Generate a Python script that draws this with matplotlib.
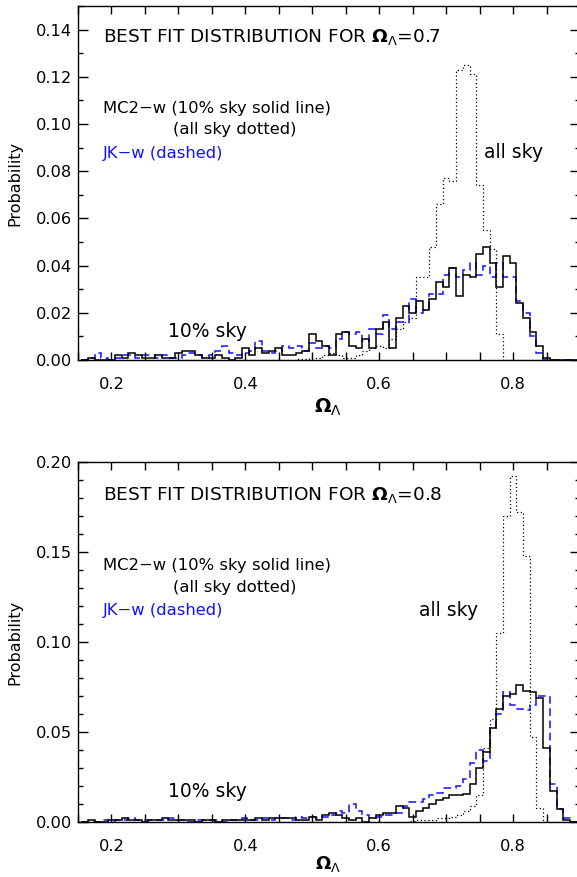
import numpy as np
import matplotlib
matplotlib.use("Agg")
import matplotlib.pyplot as plt
from matplotlib.ticker import MultipleLocator

# -------------------------------
# 1. Data (probability per 0.01 bin, centres 0.16 ... 0.89)
# -------------------------------

bin_edges = np.round(np.arange(0.155, 0.9, 0.01), 3)

# Omega_Lambda = 0.7
mc2_10pct_07 = [
    0.000, 0.001, 0.000, 0.000, 0.000, 0.002, 0.001, 0.003, 0.002, 0.001,
    0.001, 0.002, 0.001, 0.001, 0.003, 0.004, 0.004, 0.002, 0.001, 0.001,
    0.002, 0.001, 0.000, 0.001, 0.005, 0.002, 0.005, 0.003, 0.004, 0.005,
    0.002, 0.002, 0.003, 0.004, 0.011, 0.008, 0.006, 0.002, 0.011, 0.012,
    0.006, 0.005, 0.009, 0.005, 0.013, 0.016, 0.005, 0.018, 0.023, 0.020,
    0.025, 0.021, 0.026, 0.033, 0.031, 0.039, 0.027, 0.036, 0.035, 0.045,
    0.048, 0.041, 0.031, 0.044, 0.041, 0.024, 0.018, 0.012, 0.006, 0.001,
    0.000, 0.000, 0.000, 0.000,
]
jk_07 = [
    0.000, 0.001, 0.003, 0.001, 0.000, 0.001, 0.002, 0.002, 0.001, 0.002,
    0.002, 0.001, 0.002, 0.001, 0.001, 0.002, 0.003, 0.002, 0.001, 0.002,
    0.004, 0.006, 0.003, 0.002, 0.003, 0.004, 0.008, 0.004, 0.003, 0.004,
    0.006, 0.005, 0.006, 0.004, 0.007, 0.005, 0.006, 0.005, 0.009, 0.012,
    0.011, 0.012, 0.008, 0.013, 0.011, 0.019, 0.013, 0.016, 0.016, 0.026,
    0.020, 0.021, 0.028, 0.028, 0.036, 0.039, 0.035, 0.038, 0.041, 0.036,
    0.040, 0.035, 0.041, 0.035, 0.035, 0.025, 0.020, 0.010, 0.003, 0.000,
    0.000, 0.000, 0.000, 0.000,
]
mc2_all_07 = [
    0.000, 0.000, 0.000, 0.000, 0.000, 0.000, 0.000, 0.000, 0.000, 0.000,
    0.000, 0.000, 0.000, 0.000, 0.000, 0.000, 0.000, 0.000, 0.000, 0.000,
    0.000, 0.000, 0.000, 0.000, 0.000, 0.000, 0.000, 0.000, 0.000, 0.000,
    0.000, 0.000, 0.0003, 0.0005, 0.001, 0.001, 0.002, 0.003, 0.002, 0.001,
    0.001, 0.002, 0.004, 0.005, 0.006, 0.005, 0.009, 0.013, 0.016, 0.018,
    0.035, 0.035, 0.048, 0.066, 0.077, 0.076, 0.123, 0.125, 0.121, 0.074,
    0.055, 0.047, 0.011, 0.000, 0.000, 0.000, 0.000, 0.000, 0.000, 0.000,
    0.000, 0.000, 0.000, 0.000,
]

# Omega_Lambda = 0.8
mc2_10pct_08 = [
    0.000, 0.001, 0.000, 0.000, 0.001, 0.001, 0.002, 0.001, 0.001, 0.000,
    0.001, 0.001, 0.002, 0.001, 0.001, 0.001, 0.001, 0.000, 0.001, 0.001,
    0.000, 0.001, 0.001, 0.001, 0.001, 0.001, 0.002, 0.001, 0.002, 0.002,
    0.002, 0.002, 0.001, 0.001, 0.003, 0.001, 0.004, 0.005, 0.004, 0.002,
    0.001, 0.002, 0.000, 0.002, 0.004, 0.005, 0.005, 0.009, 0.008, 0.003,
    0.006, 0.008, 0.010, 0.012, 0.0135, 0.015, 0.015, 0.0155, 0.021, 0.030,
    0.039, 0.052, 0.063, 0.070, 0.071, 0.076, 0.073, 0.072, 0.069, 0.041,
    0.017, 0.007, 0.001, 0.000,
]
jk_08 = [
    0.000, 0.000, 0.000, 0.001, 0.000, 0.001, 0.001, 0.002, 0.001, 0.001,
    0.001, 0.001, 0.001, 0.002, 0.001, 0.001, 0.000, 0.001, 0.001, 0.001,
    0.001, 0.000, 0.001, 0.001, 0.002, 0.001, 0.001, 0.002, 0.001, 0.002,
    0.002, 0.001, 0.003, 0.002, 0.003, 0.002, 0.003, 0.004, 0.006, 0.005,
    0.010, 0.006, 0.004, 0.002, 0.003, 0.004, 0.004, 0.005, 0.009, 0.011,
    0.011, 0.013, 0.015, 0.016, 0.019, 0.019, 0.020, 0.024, 0.033, 0.040,
    0.034, 0.052, 0.060, 0.072, 0.065, 0.063, 0.062, 0.065, 0.070, 0.070,
    0.021, 0.007, 0.002, 0.000,
]
mc2_all_08 = [
    0.000, 0.000, 0.000, 0.000, 0.000, 0.000, 0.000, 0.000, 0.000, 0.000,
    0.000, 0.000, 0.000, 0.000, 0.000, 0.000, 0.000, 0.000, 0.000, 0.000,
    0.000, 0.000, 0.000, 0.000, 0.000, 0.000, 0.000, 0.000, 0.000, 0.000,
    0.000, 0.000, 0.000, 0.000, 0.000, 0.000, 0.000, 0.000, 0.000, 0.000,
    0.000, 0.000, 0.000, 0.000, 0.000, 0.000, 0.000, 0.000, 0.000, 0.0005,
    0.001, 0.001, 0.001, 0.002, 0.002, 0.003, 0.004, 0.006, 0.009, 0.015,
    0.041, 0.057, 0.105, 0.170, 0.192, 0.172, 0.148, 0.047, 0.008, 0.000,
    0.000, 0.000, 0.000, 0.000,
]

x_ticks = [0.2, 0.4, 0.6, 0.8]

# -------------------------------
# 2. Style
# -------------------------------

plt.rcParams['font.family'] = ['DejaVu Sans']
plt.rcParams['mathtext.fontset'] = 'dejavusans'
plt.rcParams['axes.linewidth'] = 1.0

W, H = 577, 877
fig = plt.figure(figsize=(W / 100, H / 100), dpi=100)


def make_panel(top_px, bot_px, ymax, ymajor, omega, sol, jk, allsky, texts):
    ax = fig.add_axes([78 / W, 1 - bot_px / H, (580 - 78) / W, (bot_px - top_px) / H])
    ax.stairs(allsky, bin_edges, color='black', lw=0.9, linestyle=(0, (1, 2)))
    ax.stairs(jk, bin_edges, color='#1010ff', lw=1.1, linestyle=(0, (5, 3)))
    ax.stairs(sol, bin_edges, color='black', lw=1.1)
    ax.set_xlim(0.15, 0.9)
    ax.set_ylim(0, ymax)

    ax.set_xticks(x_ticks)
    ax.xaxis.set_minor_locator(MultipleLocator(0.05))
    ax.yaxis.set_major_locator(MultipleLocator(ymajor))
    ax.yaxis.set_minor_locator(MultipleLocator(0.01))
    ax.yaxis.set_major_formatter(plt.FormatStrFormatter('%.2f'))
    ax.tick_params(which='both', direction='in', top=True, right=True,
                   labelsize=11.7, width=1.0)
    ax.tick_params(axis='x', which='major', length=5.5, pad=12)
    ax.tick_params(axis='x', which='minor', length=5.5)
    ax.tick_params(axis='y', which='major', length=7.5, pad=4)
    ax.tick_params(axis='y', which='minor', length=3.8)
    ax.set_ylabel('Probability', fontsize=11.5, labelpad=10)

    ax.text(0.187, texts['title'], 'BEST FIT DISTRIBUTION FOR $\\mathbf{\\Omega}_{\\Lambda}$=' + omega,
            fontsize=13.3, va='baseline')
    ax.text(0.187, texts['mc2'], 'MC2\u2212w (10% sky solid line)', fontsize=11.8, va='baseline')
    ax.text(0.2917, texts['dot'], '(all sky dotted)', fontsize=11.8, va='baseline')
    ax.text(0.187, texts['jk'], 'JK\u2212w (dashed)', fontsize=11.8, va='baseline', color='#1010ff')
    ax.text(texts['allsky_x'], texts['allsky_y'], 'all sky', fontsize=13.5, va='baseline')
    ax.text(0.285, texts['ten'], '10% sky', fontsize=13.5, va='baseline')
    return ax


# -------------------------------
# 3. Panels
# -------------------------------

make_panel(6, 360, 0.15, 0.02, '0.7', mc2_10pct_07, jk_07, mc2_all_07,
           dict(title=0.1346, mc2=0.1048, dot=0.0958, jk=0.0858,
                allsky_x=0.756, allsky_y=0.0855, ten=0.0097))
make_panel(462, 822, 0.2, 0.05, '0.8', mc2_10pct_08, jk_08, mc2_all_08,
           dict(title=0.179, mc2=0.140, dot=0.128, jk=0.115,
                allsky_x=0.660, allsky_y=0.1144, ten=0.0139))

fig.text(328 / W, 1 - 412.6 / H, '$\\mathbf{\\Omega}_{\\Lambda}$', fontsize=14,
         ha='center', va='baseline')
fig.text(328 / W, 1 - 869 / H, '$\\mathbf{\\Omega}_{\\Lambda}$', fontsize=13,
         ha='center', va='baseline')

fig.savefig('out.png', dpi=100)
